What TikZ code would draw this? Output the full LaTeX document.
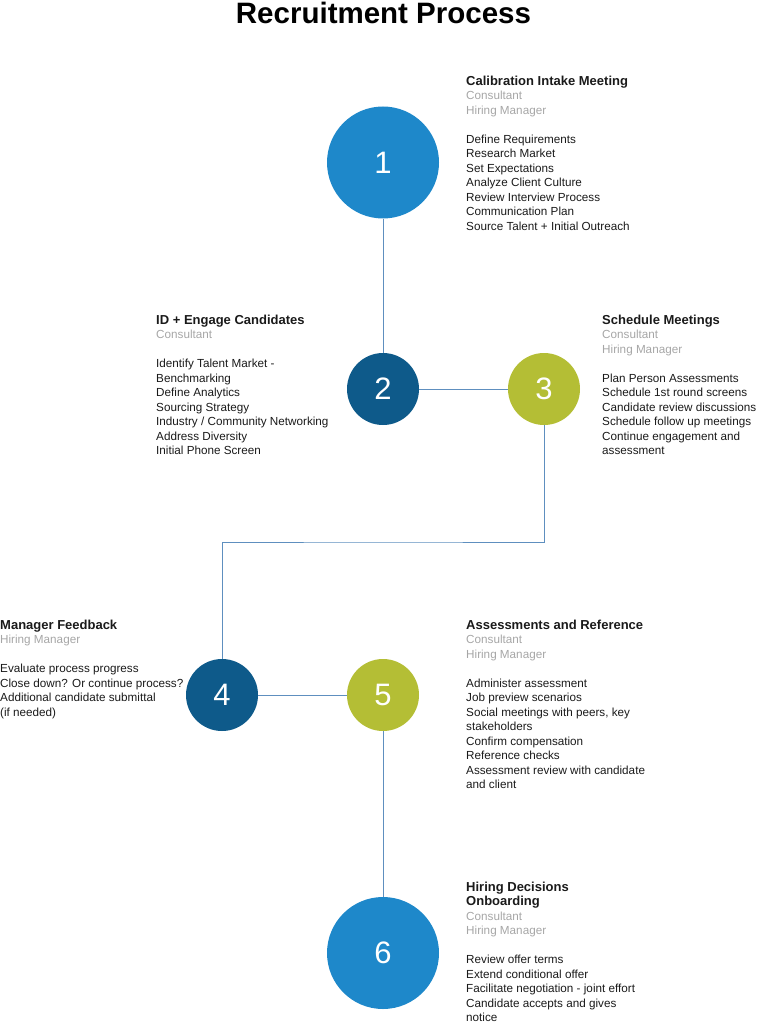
\documentclass[tikz,border=0pt]{standalone}
\usepackage{fontspec}
\setmainfont{Liberation Sans}
\definecolor{cblue}{HTML}{1E88CA}
\definecolor{cdark}{HTML}{0E5A8A}
\definecolor{cgreen}{HTML}{B4BE35}
\definecolor{cline}{HTML}{5E8FBF}
\definecolor{crole}{HTML}{A6A6A6}
\definecolor{ctext}{HTML}{1A1A1A}
\newcommand{\hd}[1]{{\fontsize{13}{14.5}\selectfont\bfseries #1}}
\newcommand{\rl}[1]{{\color{crole}#1}}
\newcommand{\st}{\vrule height 10pt depth 0pt width 0pt}
\begin{document}
\begin{tikzpicture}[x=1pt,y=-1pt,
  bigc/.style={circle,inner sep=0pt,minimum size=112pt,fill=cblue,text=white,font=\fontsize{31}{31}\selectfont},
  smallc/.style={circle,inner sep=0pt,minimum size=72pt,text=white,font=\fontsize{31}{31}\selectfont},
  info/.style={anchor=north west,inner sep=0pt,align=left,text=ctext,font=\fontsize{11.7}{14.5}\selectfont},
  conn/.style={draw=cline,line width=0.8pt}]
\useasboundingbox (0,0) rectangle (758,1024);
\node[anchor=base,inner sep=0pt,font=\fontsize{29.5}{30}\selectfont\bfseries] (title) at (383.5,23.5) {Recruitment Process};

\node[bigc] (c1) at (383,162.5) {1};
\node[smallc,fill=cdark] (c2) at (383,389) {2};
\node[smallc,fill=cgreen] (c3) at (544,389) {3};
\node[smallc,fill=cdark] (c4) at (222,695) {4};
\node[smallc,fill=cgreen] (c5) at (383,695) {5};
\node[bigc] (c6) at (383,953) {6};

\coordinate (bend) at (383,542);
\draw[conn] (c1.south) -- (c2.north);
\draw[conn] (c2.east) -- (c3.west);
\draw[conn] (c3.south) |- (bend) -| (c4.north);
\draw[conn] (c4.east) -- (c5.west);
\draw[conn] (c5.south) -- (c6.north);

\node[info] (t1) at (466,75) {\st\hd{Calibration Intake Meeting}\\
\rl{Consultant}\\
\rl{Hiring Manager}\\[14.5pt]
Define Requirements\\
Research Market\\
Set Expectations\\
Analyze Client Culture\\
Review Interview Process\\
Communication Plan\\
Source Talent + Initial Outreach};

\node[info] (t2) at (156,314) {\st\hd{ID + Engage Candidates}\\
\rl{Consultant}\\[14.5pt]
Identify Talent Market -\\
Benchmarking\\
Define Analytics\\
Sourcing Strategy\\
Industry / Community Networking\\
Address Diversity\\
Initial Phone Screen};

\node[info] (t3) at (602,314) {\st\hd{Schedule Meetings}\\
\rl{Consultant}\\
\rl{Hiring Manager}\\[14.5pt]
Plan Person Assessments\\
Schedule 1st round screens\\
Candidate review discussions\\
Schedule follow up meetings\\
Continue engagement and\\
assessment};

\node[info] (t4) at (0,619) {\st\hd{Manager Feedback}\\
\rl{Hiring Manager}\\[14.5pt]
Evaluate process progress\\
Close down? Or continue process?\\
Additional candidate submittal\\
(if needed)};

\node[info] (t5) at (466,619) {\st\hd{Assessments and Reference}\\
\rl{Consultant}\\
\rl{Hiring Manager}\\[14.5pt]
Administer assessment\\
Job preview scenarios\\
Social meetings with peers, key\\
stakeholders\\
Confirm compensation\\
Reference checks\\
Assessment review with candidate\\
and client};

\node[info] (t6) at (466,881) {\st\hd{Hiring Decisions}\\
\hd{Onboarding}\\
\rl{Consultant}\\
\rl{Hiring Manager}\\[14.5pt]
Review offer terms\\
Extend conditional offer\\
Facilitate negotiation - joint effort\\
Candidate accepts and gives\\
notice};
\end{tikzpicture}
\end{document}
